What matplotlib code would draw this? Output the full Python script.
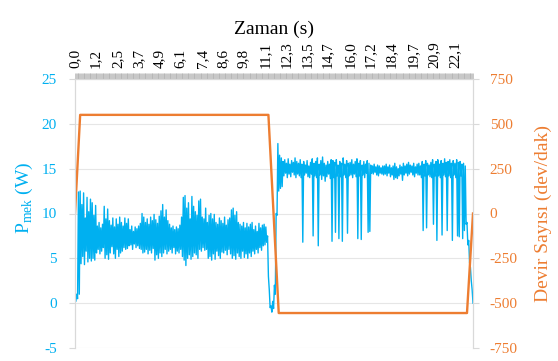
import numpy as np
import matplotlib
matplotlib.use('Agg')
import matplotlib.pyplot as plt
from matplotlib.ticker import MultipleLocator

plt.rcParams['font.family'] = 'Liberation Serif'
plt.rcParams['axes.unicode_minus'] = False
plt.rcParams['mathtext.fontset'] = 'custom'
plt.rcParams['mathtext.rm'] = 'Liberation Serif'

# ust eksen etiketleri (s)
zaman_etiket = ['0,0', '1,2', '2,5', '3,7', '4,9', '6,1', '7,4', '8,6', '9,8', '11,1',
                '12,3', '13,5', '14,7', '16,0', '17,2', '18,4', '19,7', '20,9', '22,1']

# guc (W): her 0,1 s icin ust / alt deger
p_ust = [0.8, 1.0, 12.4, 12.5, 11.0, 12.3, 9.5, 11.8, 10.2, 11.6,
         11.2, 9.8, 10.9, 8.6, 9.0, 8.4, 8.8, 10.8, 9.4, 10.5,
         9.2, 8.7, 9.5, 8.5, 9.4, 8.8, 9.6, 9.0, 8.6, 9.5,
         8.9, 9.4, 8.2, 8.6, 8.0, 8.5, 8.3, 8.6, 8.9, 10.0,
         9.6, 9.0, 9.4, 8.8, 9.6, 9.2, 9.9, 9.3, 8.9, 9.7,
         10.3, 11.0, 9.6, 10.4, 9.2, 8.8, 8.4, 8.6, 8.2, 8.5,
         8.3, 8.7, 9.6, 11.8, 12.0, 10.6, 11.2, 9.4, 11.9, 10.8,
         10.2, 9.8, 11.4, 11.6, 9.6, 9.4, 10.6, 9.0, 9.8, 10.0,
         9.4, 9.9, 9.0, 8.8, 9.5, 9.2, 8.9, 9.6, 8.7, 9.3,
         9.5, 10.4, 10.6, 9.8, 10.2, 9.0, 8.8, 8.6, 9.0, 8.4,
         8.9, 8.5, 8.8, 9.0, 8.2, 8.6, 8.0, 8.9, 8.4, 8.7,
         8.8, 8.5, 7.5, 1.5, -0.3, 0.2, 2.0, 10.0, 17.8, 16.5,
         16.2, 15.8, 16.0, 15.6, 16.1, 15.5, 15.9, 15.7, 16.2, 15.8,
         15.6, 16.0, 15.5, 15.8, 15.4, 15.9, 15.3, 15.7, 16.1, 15.6,
         15.8, 16.2, 15.5, 15.9, 16.3, 15.6, 15.4, 15.8, 15.5, 16.0,
         15.9, 15.7, 16.0, 15.4, 15.8, 15.6, 16.2, 15.5, 15.9, 15.6,
         15.7, 16.0, 15.5, 15.8, 16.1, 15.6, 15.9, 15.4, 15.8, 15.5,
         15.9, 15.6, 15.4, 15.3, 15.5, 15.2, 15.4, 15.3, 15.1, 15.3,
         15.3, 15.5, 15.2, 15.4, 15.1, 15.3, 15.6, 15.2, 15.0, 15.4,
         15.2, 15.6, 15.3, 15.5, 15.7, 15.4, 15.3, 15.6, 15.2, 15.5,
         15.6, 15.3, 15.8, 15.5, 15.9, 15.6, 15.4, 15.7, 16.0, 15.5,
         15.8, 16.0, 15.5, 15.9, 15.6, 16.1, 15.7, 15.8, 16.0, 15.6,
         15.9, 15.6, 16.0, 15.7, 15.8, 15.5, 15.6, 15.3, 9.0, 7.0,
         4.0, 1.5]
p_alt = [0.2, 0.5, 1.0, 4.4, 5.2, 4.3, 5.8, 4.6, 5.0, 4.7,
         5.0, 4.8, 5.6, 6.0, 5.5, 5.8, 6.2, 5.0, 5.4, 4.9,
         5.6, 6.3, 5.5, 5.0, 6.0, 5.2, 5.6, 5.8, 6.2, 6.0,
         6.1, 6.4, 6.5, 6.0, 6.6, 6.2, 6.4, 6.1, 6.0, 5.6,
         5.7, 6.0, 5.5, 5.9, 5.6, 6.1, 4.8, 5.4, 5.0, 5.6,
         5.2, 5.6, 6.0, 5.5, 5.8, 6.0, 5.6, 6.2, 5.5, 5.8,
         5.6, 6.0, 5.2, 4.8, 4.2, 5.0, 5.4, 4.9, 5.2, 5.6,
         5.4, 5.0, 6.0, 5.8, 6.2, 5.9, 6.0, 5.0, 5.2, 4.8,
         5.5, 4.9, 5.8, 5.3, 5.0, 5.7, 5.6, 5.9, 5.4, 6.0,
         5.5, 5.0, 5.3, 4.9, 5.6, 5.2, 5.0, 5.8, 5.1, 5.5,
         5.0, 5.6, 5.2, 5.8, 5.5, 6.0, 5.6, 6.2, 5.9, 6.4,
         6.5, 6.8, 3.0, -0.5, -1.0, -0.6, 1.0, 9.8, 12.5, 12.8,
         13.0, 14.2, 14.5, 14.0, 14.4, 14.1, 14.6, 14.3, 14.0, 14.4,
         14.2, 14.0, 6.8, 14.3, 14.5, 14.1, 14.0, 14.4, 7.5, 14.2,
         14.0, 6.4, 14.3, 13.8, 14.2, 13.6, 14.1, 14.4, 13.9, 6.9,
         14.0, 7.9, 14.2, 7.2, 14.1, 6.9, 14.3, 14.0, 7.8, 14.2,
         14.3, 14.0, 14.4, 14.1, 7.2, 14.2, 7.1, 14.3, 14.0, 14.5,
         7.9, 8.0, 14.5, 14.4, 14.6, 14.3, 14.2, 14.5, 14.4, 14.3,
         14.4, 14.2, 14.5, 14.1, 14.3, 13.8, 14.0, 13.9, 14.2, 14.4,
         13.7, 14.3, 14.5, 14.2, 14.4, 14.6, 14.3, 14.1, 14.5, 14.3,
         14.3, 14.0, 8.1, 14.2, 8.4, 14.3, 14.1, 14.0, 8.8, 14.2,
         7.0, 14.2, 14.0, 7.6, 14.3, 14.1, 8.1, 14.2, 14.0, 7.0,
         14.3, 14.0, 7.5, 7.4, 14.2, 7.2, 8.1, 8.8, 6.5, 4.5,
         2.5, 0.0]

# devir sayisi (dev/dak)
devir_t = [0.0, 0.3, 11.25, 11.85, 22.8, 23.15]
devir = [0, 550, 550, -555, -555, 0]

mavi = '#00B0F0'
turuncu = '#ED7D31'
gri = '#d9d9d9'

t_bin = np.arange(len(p_ust)) * 0.1
tt = np.column_stack([t_bin, t_bin + 0.05]).ravel()
pp = np.column_stack([p_ust, p_alt]).ravel()

fig = plt.figure(figsize=(5.58, 3.61), dpi=100)
ax = fig.add_axes([75 / 558, 1 - 348 / 361, 398 / 558, 269 / 361])

ax.plot(tt, pp, color=mavi, lw=1.0)
ax.set_xlim(0, 23.15)
ax.set_ylim(-5, 25)
ax.set_yticks(range(-5, 30, 5))
ax.grid(axis='y', color='#e6e6e6', lw=0.8)
ax.set_axisbelow(True)

# ust eksen
ax.xaxis.tick_top()
ax.set_xticks([float(s.replace(',', '.')) for s in zaman_etiket])
ax.set_xticklabels(zaman_etiket, rotation=90)
ax.xaxis.set_minor_locator(MultipleLocator(0.05))
ax.tick_params(axis='x', which='both', length=4, width=0.5, color='#b0b0b0',
               top=True, bottom=False, labelsize=11, pad=4)
ax.set_xlabel('Zaman (s)', fontsize=14, labelpad=5)
ax.xaxis.set_label_position('top')

ax.tick_params(axis='y', length=4, color=gri, labelcolor=mavi, labelsize=11, pad=9)
ax.set_ylabel(r'P$_{\mathrm{mek}}$ (W)', fontsize=14, color=mavi)
ax.yaxis.set_label_coords(-0.1, 0.56)

for s in ['left', 'right', 'top']:
    ax.spines[s].set_color(gri)
ax.spines['bottom'].set_visible(False)

ax2 = ax.twinx()
ax2.plot(devir_t, devir, color=turuncu, lw=1.7)
ax2.set_ylim(-750, 750)
ax2.set_yticks(range(-750, 1000, 250))
ax2.tick_params(axis='y', length=4, color=gri, labelcolor=turuncu, labelsize=11, pad=8)
ax2.set_ylabel('Devir Sayısı (dev/dak)', fontsize=14, color=turuncu, labelpad=12)
for s in ['left', 'right', 'top']:
    ax2.spines[s].set_color(gri)
ax2.spines['bottom'].set_visible(False)

fig.savefig('out.png', dpi=100)
